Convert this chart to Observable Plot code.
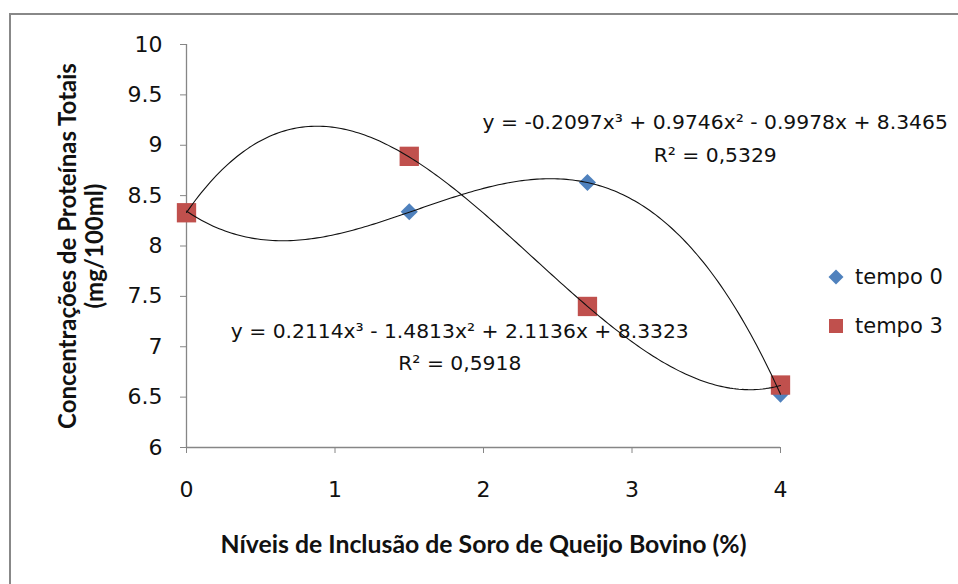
<!DOCTYPE html>
<html>
<head>
<meta charset="utf-8">
<script src="https://cdn.jsdelivr.net/npm/d3@7"></script>
<script src="https://cdn.jsdelivr.net/npm/@observablehq/plot@0.6"></script>
<style>
  html, body { margin: 0; padding: 0; background: #fff; overflow: hidden; }
  #wrap { position: relative; width: 958px; height: 584px; font-family: "DejaVu Sans", sans-serif; }
  #frame { position: absolute; left: 9px; top: 13px; width: 970px; height: 600px;
           border-left: 2px solid #888; border-top: 2px solid #888; }
  #chart { position: absolute; left: 0; top: 0; }
  .leg { position: absolute; display: flex; align-items: center; font-size: 21px; color: #111; line-height: 24px; }
  .leg svg { margin-right: 11px; }
</style>
</head>
<body>
<div id="wrap">
  <div id="frame"></div>
  <div id="chart"></div>
</div>
<script>
// ---- data ----
const inclusionLevels = [0, 1.5, 2.7, 4];
const tempo0Values = [8.34, 8.34, 8.63, 6.53];
const tempo3Values = [8.33, 8.89, 7.40, 6.62];
// cubic trendline coefficients shown on the chart (x³, x², x, constant)
const tempo0Coef = [-0.2097, 0.9746, -0.9978, 8.3465];
const tempo3Coef = [0.2114, -1.4813, 2.1136, 8.3323];
const tempo0Equation = ["y = -0.2097x³ + 0.9746x² - 0.9978x + 8.3465", "R² = 0,5329"];
const tempo3Equation = ["y = 0.2114x³ - 1.4813x² + 2.1136x + 8.3323", "R² = 0,5918"];
const seriesNames = ["tempo 0", "tempo 3"];
const seriesColors = ["#4F81BD", "#C0504D"];
const xTicks = [0, 1, 2, 3, 4];
const yTicks = [6, 6.5, 7, 7.5, 8, 8.5, 9, 9.5, 10];
const xTitle = "Níveis de Inclusão de Soro de Queijo Bovino (%)";
const yTitle = ["Concentrações de Proteínas Totais", "(mg/100ml)"];

// ---- build ----
const rows0 = inclusionLevels.map((x, i) => ({x, y: tempo0Values[i]}));
const rows3 = inclusionLevels.map((x, i) => ({x, y: tempo3Values[i]}));
const poly = (c, x) => c[0]*x*x*x + c[1]*x*x + c[2]*x + c[3];
const xs = d3.range(0, 4.0001, 0.02);
const trend0 = xs.map(x => ({x, y: poly(tempo0Coef, x)}));
const trend3 = xs.map(x => ({x, y: poly(tempo3Coef, x)}));

const axisGray = "#868686";
const textColor = "#111";
const titleFont = "Lato, 'Open Sans', sans-serif";

const chart = Plot.plot({
  width: 958,
  height: 584,
  marginLeft: 186,
  marginRight: 178,
  marginTop: 44,
  marginBottom: 137,
  style: {fontFamily: "'DejaVu Sans', sans-serif", background: "transparent", overflow: "visible"},
  x: {domain: [0, 4]},
  y: {domain: [6, 10]},
  marks: [
    Plot.axisY({ticks: yTicks, tickFormat: d => String(d), tickSize: 6, tickPadding: 18,
                fontSize: 22, stroke: axisGray, fill: textColor, label: null}),
    Plot.axisX({ticks: xTicks, tickFormat: d => String(d), tickSize: 6, tickPadding: 28,
                fontSize: 22, stroke: axisGray, fill: textColor, label: null}),
    Plot.ruleX([0], {stroke: axisGray, strokeWidth: 1.3}),
    Plot.ruleY([6], {stroke: axisGray, strokeWidth: 1.3}),
    Plot.dot(rows0, {x: "x", y: "y", symbol: "diamond2", r: 7.7, fill: seriesColors[0], stroke: "none"}),
    Plot.dot(rows3, {x: "x", y: "y", symbol: "square", r: 10.9, fill: seriesColors[1], stroke: "none"}),
    Plot.line(trend0, {x: "x", y: "y", stroke: "#111", strokeWidth: 1.1}),
    Plot.line(trend3, {x: "x", y: "y", stroke: "#111", strokeWidth: 1.1}),
    Plot.text([tempo0Equation.join("\n")], {text: d => d, x: 3.56, y: 9.10, fontSize: 20.3, lineHeight: 1.62,
                textAnchor: "middle", lineAnchor: "middle", fill: textColor}),
    Plot.text([tempo3Equation.join("\n")], {text: d => d, x: 1.84, y: 7.03, fontSize: 20.3, lineHeight: 1.58,
                textAnchor: "middle", lineAnchor: "middle", fill: textColor}),
    Plot.text([yTitle.join("\n")], {text: d => d, frameAnchor: "left", dx: -106, rotate: -90,
                fontFamily: titleFont, fontSize: 24, fontWeight: "bold", lineHeight: 1.125,
                textAnchor: "middle", lineAnchor: "middle", fill: textColor}),
    Plot.text([xTitle], {text: d => d, frameAnchor: "bottom", dy: 98,
                fontFamily: titleFont, fontSize: 24.8, fontWeight: "bold",
                textAnchor: "middle", lineAnchor: "middle", fill: textColor})
  ]
});
document.getElementById("chart").appendChild(chart);

// ---- legend ----
const wrap = document.getElementById("wrap");
const legendTops = [265, 314];
seriesNames.forEach((name, i) => {
  const item = document.createElement("div");
  item.className = "leg";
  item.style.left = "828px";
  item.style.top = legendTops[i] + "px";
  const shape = i === 0
    ? `<svg width="16" height="16"><polygon points="8,0.5 15.5,8 8,15.5 0.5,8" fill="${seriesColors[i]}"/></svg>`
    : `<svg width="16" height="16"><rect x="1" y="1" width="14" height="14" fill="${seriesColors[i]}"/></svg>`;
  item.innerHTML = shape + `<span>${name}</span>`;
  wrap.appendChild(item);
});
</script>
</body>
</html>
